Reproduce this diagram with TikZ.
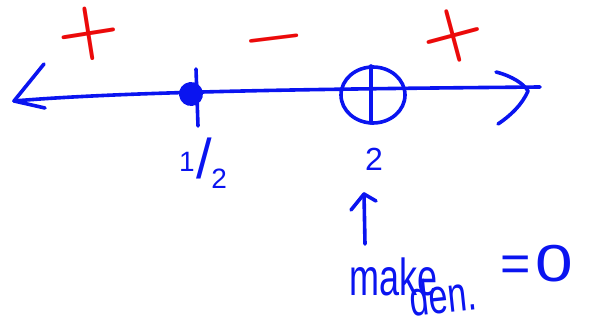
\documentclass[tikz,border=0pt]{standalone}
\usepackage{fontspec}
\setmainfont{Liberation Sans}
\newfontfamily\signfont{Latin Modern Roman}[BoldFont={Latin Modern Roman/B}]
\definecolor{penblue}{RGB}{10,20,240}
\definecolor{penred}{RGB}{235,10,10}
\tikzset{
  ink/.style={draw=penblue, line width=3.6pt, line cap=round, line join=round},
  redsign/.style={text=penred, inner sep=0pt},
  bluetext/.style={text=penblue, inner sep=0pt},
}
\begin{document}
\begin{tikzpicture}[x=1pt,y=1pt]
\useasboundingbox (0,0) rectangle (594,-326);
% number line
\coordinate (L) at (14,-101);
\coordinate (R) at (540,-87);
\draw[ink] (L) .. controls (120,-92) and (300,-89) .. (R);
\draw[ink] (44,-64) -- (L) -- (45,-108);
\draw[ink] (496,-72) .. controls (512,-76) and (524,-84) .. (528,-91) .. controls (522,-105) and (510,-116) .. (498,-124);
% point 1/2 (filled)
\node[circle, fill=penblue, minimum width=24pt, minimum height=20pt, inner sep=0pt, rotate=30] (p1) at (191,-94) {};
\draw[ink] (196,-69) -- (198,-126);
% point 2 (open)
\coordinate (p2) at (373,-95);
\draw[ink] (p2) ellipse [x radius=32, y radius=28];
\draw[ink] (371,-66) -- (371,-123);
% labels
\node[bluetext, font=\fontsize{28}{28}\selectfont] (l1) at (203,-163) {\raisebox{7pt}{1}\hspace{2pt}{\fontsize{56}{56}\selectfont/}\hspace{-1pt}\raisebox{-10pt}{2}};
\node[bluetext, font=\fontsize{32}{32}\selectfont] (l2) at (374,-159) {2};
% up arrow
\coordinate (a1) at (365,-244);
\coordinate (a2) at (364,-194);
\draw[ink] (a1) -- (a2);
\draw[ink] (351,-210) -- (a2) -- (376,-201);
% note
\node[bluetext, font=\fontsize{40}{40}\selectfont, anchor=base] (mk) at (394,-295) {\scalebox{0.9}[1.3]{make}};
\node[bluetext, font=\fontsize{38}{38}\selectfont, anchor=base, rotate=6] (dn) at (445,-313) {\scalebox{0.9}[1.3]{den.}};
\node[bluetext, font=\fontsize{52}{52}\selectfont, anchor=base] (eq) at (537,-281) {=\hspace{5pt}\scalebox{1.3}[1]{0}};
% signs
\node[redsign, font=\fontsize{72}{72}\signfont\bfseries, rotate=9] (s1) at (89,-34) {+};
\node[redsign, font=\fontsize{66}{66}\signfont\bfseries, rotate=7] (s2) at (275,-46) {−};
\node[redsign, font=\fontsize{72}{72}\signfont\bfseries, rotate=15] (s3) at (453,-36) {+};
\end{tikzpicture}
\end{document}
